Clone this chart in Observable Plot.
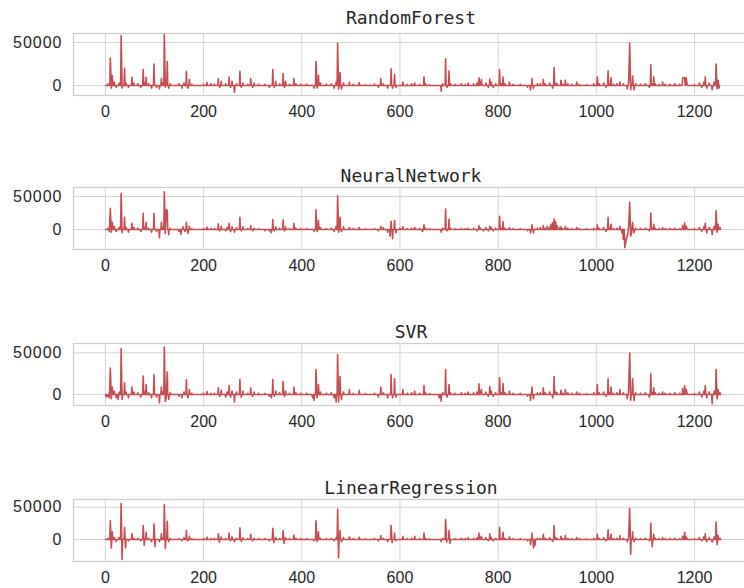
<!DOCTYPE html>
<html>
<head>
<meta charset="utf-8">
<script src="https://cdn.jsdelivr.net/npm/d3@7"></script>
<script src="https://cdn.jsdelivr.net/npm/@observablehq/plot@0.6"></script>
<style>
  html, body { margin: 0; padding: 0; background: white; }
  #wrap { position: relative; width: 744px; height: 588px; overflow: hidden; }
  #wrap svg { position: absolute; left: 0; overflow: hidden; }
  g[aria-label="y-axis tick label"] text { letter-spacing: 1px; }
</style>
</head>
<body>
<div id="wrap"></div>
<script>
// Panel titles
const models = ["RandomForest", "NeuralNetwork", "SVR", "LinearRegression"];

// Tick labels
const xTicks = [0, 200, 400, 600, 800, 1000, 1200];
const yTicks = [0, 50000];

// Series values: [index, residual]
const rfPoints = [[5,2000],[10,32000],[12,-3000],[14,11600],[18,4000],[22,-2000],[28,3000],[32,58000],[34,-3000],[39,20000],[42,3000],[47,-2000],[54,9700],[58,3000],[66,2000],[72,-2000],[77,18600],[80,3000],[83,9700],[88,2000],[94,-3000],[99,25000],[104,-2000],[110,-4000],[114,8000],[117,3000],[120,59000],[122,-2000],[126,28000],[129,-3000],[132,2000],[150,2000],[156,-3000],[160,3000],[165,16600],[168,-3000],[171,7000],[176,1500],[200,1500],[207,3500],[215,2000],[222,1500],[230,8000],[233,-2000],[236,5000],[245,2000],[252,10000],[255,-2000],[258,5000],[263,-7800],[267,2000],[274,16600],[277,-2000],[280,3000],[290,1500],[296,8000],[300,-2000],[303,3000],[312,1500],[325,1500],[334,-2000],[341,18600],[344,-2000],[347,5000],[355,2000],[362,14000],[365,-2000],[367,5000],[375,1500],[384,8000],[388,2000],[398,1500],[410,1500],[425,-3000],[429,28000],[431,-3000],[434,12000],[438,3000],[450,1500],[460,2000],[466,-3000],[470,4000],[473,49000],[475,-4000],[478,15000],[481,-4000],[485,3000],[497,4000],[505,1500],[517,3500],[530,1000],
[548,1500],[556,-2000],[561,8000],[566,2000],[575,-3000],[582,19400],[585,-3000],[589,13000],[592,-2000],[606,4000],[615,1500],[624,2000],[630,3000],[640,1500],[649,10000],[652,2000],[660,1000],[684,-6500],[687,2000],[693,31000],[696,-2000],[700,17000],[703,2000],[712,1500],[725,2000],[733,1500],[739,3000],[750,2000],[757,3000],[761,9000],[764,2000],[766,7000],[775,3000],[780,-2000],[783,7500],[786,4000],[790,-2000],[795,2000],[803,18600],[806,2000],[810,10000],[814,2000],[823,4000],[830,1500],[845,1500],[860,-2000],[866,-5000],[869,8000],[872,-3000],[880,2000],[886,2000],[892,7000],[896,2000],[905,3000],[911,-3000],[914,21000],[917,3000],[920,2000],[928,6000],[932,1500],[937,6000],[942,2000],[950,1500],[960,4000],[965,1500],[980,1000],[995,2000],[1002,10000],[1006,2000],[1015,3000],[1020,-2000],[1024,17000],[1027,2000],[1030,9000],[1035,1500],[1042,2000],[1048,4000],[1055,2000],[1063,-4000],[1066,6000],[1068,49000],[1070,-5000],[1074,11000],[1077,-5000],[1080,2000],[1090,1500],[1100,2000],[1108,-2000],[1111,24000],[1114,2000],[1117,10000],[1120,2000],[1128,1500],[1135,4000],[1140,1500],[1150,1500],[1160,2000],[1170,1500],[1176,9000],[1178,9000],[1180,9000],[1183,9000],[1185,1500],[1200,1000],[1210,3000],[1215,-2000],[1219,4000],[1222,10000],[1225,-3000],[1230,3000],[1236,-5000],[1240,4000],[1244,25000],[1246,-4000],[1248,6000],[1250,-3000]];

const nnPoints = [[5,2000],[8,-3000],[10,32000],[12,-4000],[14,11000],[18,5000],[22,-3000],[28,3000],[32,55000],[34,-5000],[39,18500],[42,3000],[47,-4000],[54,9500],[58,3000],[66,2000],[72,-3000],[77,24500],[80,3000],[83,11000],[88,2000],[94,-4000],[99,24500],[104,-3000],[110,-12500],[114,11000],[117,3000],[120,57000],[122,-6000],[124,30000],[126,28500],[129,-8000],[132,2000],[150,-3000],[154,-7500],[158,4000],[162,-3000],[165,11000],[168,-6000],[171,5000],[176,1500],[200,1500],[207,3500],[215,1500],[222,1500],[230,8500],[233,-2000],[236,5000],[245,-2000],[248,3000],[252,9500],[255,-3000],[258,4000],[263,-4000],[267,3000],[274,18500],[277,-2000],[280,4000],[290,1500],[296,6000],[300,-2000],[303,2000],[312,1500],[325,-2000],[334,-2000],[338,-5000],[341,15000],[344,-2000],[347,4000],[355,2000],[362,14500],[365,-2000],[367,4000],[375,1500],[384,9500],[388,2000],[398,1500],[410,1500],[425,-3000],[429,30000],[431,-3000],[434,13500],[438,3000],[450,1500],[460,2000],[466,-3000],[470,5000],[473,51000],[475,-4000],[478,18500],[481,-3000],[485,4000],[497,3000],[505,1500],[517,3000],[530,1000],
[548,1500],[556,-2000],[561,5000],[566,3000],[575,-4000],[580,-10000],[582,12500],[585,-14000],[589,13500],[592,-5000],[600,2000],[606,4000],[615,1500],[624,2000],[630,3000],[640,1500],[646,-3000],[649,7000],[652,2000],[660,1000],[684,-4000],[687,2000],[693,31000],[696,-2000],[700,16000],[703,2000],[712,1500],[725,1500],[733,1500],[739,2000],[750,2000],[757,-2000],[761,6000],[764,2000],[770,-2000],[775,3000],[780,-2000],[783,5000],[786,3000],[790,-2000],[795,2000],[803,20000],[806,2000],[810,12000],[814,2000],[823,3000],[830,1500],[845,1500],[860,-2000],[866,-5000],[869,7000],[872,-5000],[880,2000],[886,3000],[892,6000],[896,2000],[900,5000],[905,4000],[908,8000],[911,10000],[914,16000],[917,12000],[920,6000],[925,3000],[928,4000],[932,1500],[937,5000],[942,2000],[950,1500],[960,3000],[965,1500],[980,1000],[995,2000],[1002,7000],[1006,2000],[1015,3000],[1020,-3000],[1024,18500],[1027,2000],[1030,8000],[1035,1500],[1042,2000],[1048,5000],[1052,-5000],[1055,-15000],[1058,-27500],[1060,-19000],[1062,-12000],[1064,-8000],[1066,6000],[1068,41000],[1070,-10000],[1072,-5000],[1074,11000],[1077,-5000],[1080,2000],[1090,1500],[1100,2000],[1108,-2000],[1111,25000],[1114,2000],[1117,8000],[1120,2000],[1128,1500],[1135,3000],[1140,1500],[1150,1500],[1160,2000],[1170,1500],[1176,6000],[1180,10000],[1183,5000],[1185,1500],[1200,1000],[1210,3000],[1215,-3000],[1219,4000],[1222,9500],[1225,-5000],[1230,3000],[1236,-8000],[1240,5000],[1244,28500],[1246,-4000],[1248,8000],[1252,3000]];

const svrPoints = [[2,-3000],[5,-2000],[8,-4000],[10,31600],[12,-5000],[14,8800],[18,4000],[22,-4000],[26,-6000],[28,3000],[32,55000],[34,-6000],[39,14000],[42,3000],[47,-4000],[54,8800],[58,3000],[66,2000],[72,-3000],[77,22000],[80,3000],[83,12000],[88,2000],[94,-4000],[99,24000],[104,-3000],[110,-10000],[114,8800],[117,3000],[120,57000],[122,-8000],[124,-4000],[126,27000],[129,-6000],[132,2000],[150,-2000],[156,-4000],[160,3000],[165,17600],[168,-4000],[171,6000],[176,1500],[200,1500],[207,3600],[215,1500],[222,1500],[230,8000],[233,-2000],[236,5000],[245,-3000],[248,3000],[252,10800],[255,-3000],[258,4000],[263,-9000],[267,3000],[274,18000],[277,-3000],[280,4000],[290,1500],[296,8000],[300,-2000],[303,3000],[312,1500],[325,1500],[334,-2000],[338,-4000],[341,18000],[344,-2000],[347,4000],[355,2000],[362,15600],[365,-2000],[367,4000],[375,1500],[384,8800],[388,2000],[398,1500],[410,1500],[422,-4000],[425,-7000],[429,30000],[431,-4000],[434,12000],[438,3000],[450,1500],[460,2000],[466,-4000],[470,-9000],[473,48000],[475,-9000],[478,21600],[481,-6000],[485,3000],[497,6000],[505,1500],[517,5000],[530,1000],
[548,1500],[556,-3000],[561,8800],[566,2000],[575,-4000],[582,24000],[585,-4000],[589,18800],[592,-3000],[606,6000],[615,1500],[624,2000],[630,4000],[640,1500],[649,10800],[652,2000],[660,1000],[680,-4000],[684,-8000],[687,2000],[693,30000],[696,-3000],[700,12000],[703,2000],[712,1500],[725,2000],[733,1500],[739,3000],[750,2000],[757,3000],[761,12800],[764,2000],[766,6000],[775,3000],[780,-2000],[783,9600],[786,4000],[790,-2000],[795,2000],[803,20000],[806,2000],[810,13000],[814,2000],[823,4000],[830,1500],[845,1500],[860,-2000],[866,-7000],[869,8800],[872,-5000],[880,2000],[886,2000],[892,8000],[896,2000],[905,3000],[911,-4000],[914,21600],[917,3000],[920,2000],[928,5000],[932,1500],[937,6000],[942,2000],[950,1500],[960,3000],[965,1500],[980,1000],[995,2000],[1002,12000],[1006,2000],[1015,3000],[1020,-2000],[1024,18800],[1027,2000],[1030,9000],[1035,1500],[1042,2000],[1048,6000],[1055,2000],[1063,-5000],[1066,8000],[1068,49600],[1070,-7000],[1074,18800],[1077,-7000],[1080,2000],[1090,1500],[1100,2000],[1108,-3000],[1111,24800],[1114,2000],[1117,8000],[1120,2000],[1128,1500],[1135,3000],[1140,1500],[1150,1500],[1160,2000],[1170,1500],[1176,7000],[1180,10800],[1183,6000],[1185,1500],[1200,1000],[1210,3000],[1215,-3000],[1219,4000],[1222,10800],[1225,-4000],[1230,3000],[1236,-11200],[1240,4000],[1244,30000],[1246,-5000],[1248,6000],[1252,2000]];

const lrPoints = [[5,2000],[10,29000],[12,-13000],[14,12000],[18,3000],[22,-3000],[28,3000],[32,56000],[34,-31000],[39,19000],[41,-13000],[47,-2000],[54,9000],[58,2000],[66,2000],[72,-2000],[77,21600],[79,-9000],[83,11000],[88,2000],[94,-3000],[99,24000],[101,-11000],[110,-3000],[114,9000],[117,2000],[120,54000],[122,-14000],[126,28000],[129,-3000],[132,2000],[150,1500],[156,-2000],[160,3000],[165,14000],[168,-2000],[171,5000],[176,1500],[200,1500],[207,3500],[215,1500],[222,1500],[230,9000],[232,-4000],[236,4000],[245,1500],[252,10000],[255,-2000],[258,4000],[263,-3000],[267,2000],[274,18000],[277,-3000],[280,3000],[290,1500],[296,8000],[300,-2000],[303,2000],[312,1500],[325,1500],[334,-2000],[341,17500],[343,-5000],[347,3000],[355,1500],[362,14000],[364,-6000],[367,3000],[375,1500],[384,7000],[388,2000],[398,1500],[410,1500],[425,-2000],[429,29000],[431,-3000],[434,12000],[438,2000],[450,1500],[460,1500],[466,-2000],[470,3000],[473,47000],[475,-28000],[478,14000],[481,-3000],[485,3000],[497,4000],[505,1500],[517,3500],[530,1000],
[548,1500],[556,-2000],[561,6000],[566,2000],[575,-3000],[582,21600],[584,-5000],[589,10000],[592,-2000],[606,5000],[615,1500],[624,2000],[630,5000],[640,1500],[649,10000],[652,2000],[660,1000],[684,-3000],[687,2000],[693,31000],[695,-4000],[700,14000],[702,-6000],[712,1500],[725,2000],[733,1500],[739,3000],[750,2000],[757,3000],[761,10000],[764,2000],[766,5000],[775,3000],[780,-2000],[783,9000],[786,3000],[790,-2000],[795,2000],[803,19000],[806,2000],[810,11000],[814,2000],[823,4000],[830,1500],[845,1500],[860,-2000],[866,-8000],[869,10000],[872,-13000],[875,-9000],[880,2000],[886,2000],[892,8000],[896,2000],[905,3000],[911,-3000],[914,21600],[917,3000],[920,2000],[928,5000],[932,1500],[937,6000],[942,2000],[950,1500],[960,3000],[965,1500],[980,1000],[995,2000],[1002,8000],[1006,2000],[1015,3000],[1020,-2000],[1024,15000],[1027,2000],[1030,8000],[1035,1500],[1042,2000],[1048,6000],[1055,2000],[1063,-3000],[1066,5000],[1068,48000],[1070,-23000],[1074,12000],[1077,-3000],[1080,2000],[1090,1500],[1100,2000],[1108,-2000],[1111,25000],[1114,-11000],[1117,8000],[1120,2000],[1128,1500],[1135,3000],[1140,1500],[1150,1500],[1160,2000],[1170,1500],[1176,5000],[1180,11000],[1183,4000],[1185,1500],[1200,1000],[1210,3000],[1215,-2000],[1219,4000],[1222,9000],[1225,-3000],[1230,3000],[1236,-4000],[1240,4000],[1244,27000],[1246,-8000],[1248,6000],[1252,2000]];

const series = [rfPoints, nnPoints, svrPoints, lrPoints];

// Scale settings per panel
const yDomains = [[-11600, 60500], [-30300, 63600], [-13200, 61150], [-34000, 61900]];
const panelTops = [0, 154, 310, 466];
const titleDy = [-15, -11, -11, -11];

// Build line rows: keep read points, return to the zero baseline between separated spikes
function toRows(points) {
  const pts = points.slice().sort((a, b) => a[0] - b[0]);
  const rows = [{x: 0, y: 0}];
  for (const [x, y] of pts) {
    const prev = rows[rows.length - 1];
    if (x - prev.x > 2) {
      if (prev.y !== 0) rows.push({x: prev.x + 1, y: 0});
      rows.push({x: x - 1, y: 0});
    }
    rows.push({x, y});
  }
  const last = rows[rows.length - 1];
  rows.push({x: last.x + 1, y: 0});
  return rows;
}

const wrap = document.getElementById("wrap");
models.forEach((name, i) => {
  const rows = toRows(series[i]);
  const svg = Plot.plot({
    width: 744,
    height: 122,
    marginLeft: 73,
    marginRight: -4,
    marginTop: 33,
    marginBottom: 27,
    style: {fontFamily: "'Liberation Sans', Arial, sans-serif", fontSize: "16px", color: "#262626", background: "white"},
    x: {domain: [-65, 1310], label: null},
    y: {domain: yDomains[i], label: null},
    marks: [
      Plot.gridX(xTicks, {stroke: "#d4d4d4", strokeOpacity: 1, strokeWidth: 1}),
      Plot.gridY(yTicks, {stroke: "#d4d4d4", strokeOpacity: 1, strokeWidth: 1}),
      Plot.frame({stroke: "#cfcfcf", strokeWidth: 1.3}),
      Plot.line(rows, {x: "x", y: "y", stroke: "#c44e52", strokeWidth: 1.6, strokeLinejoin: "round"}),
      Plot.axisX({ticks: xTicks, tickSize: 0, tickPadding: 10, fontSize: 16, tickFormat: "d", label: null}),
      Plot.axisY({ticks: yTicks, tickSize: 0, tickPadding: 11, fontSize: 16, tickFormat: "d", label: null}),
      Plot.text([name], {text: d => d, frameAnchor: "top", lineAnchor: "middle", dy: titleDy[i], fontSize: 18, fontFamily: "'DejaVu Sans Mono', monospace", fill: "#262626"})
    ]
  });
  svg.style.top = panelTops[i] + "px";
  wrap.appendChild(svg);
});
</script>
</body>
</html>
